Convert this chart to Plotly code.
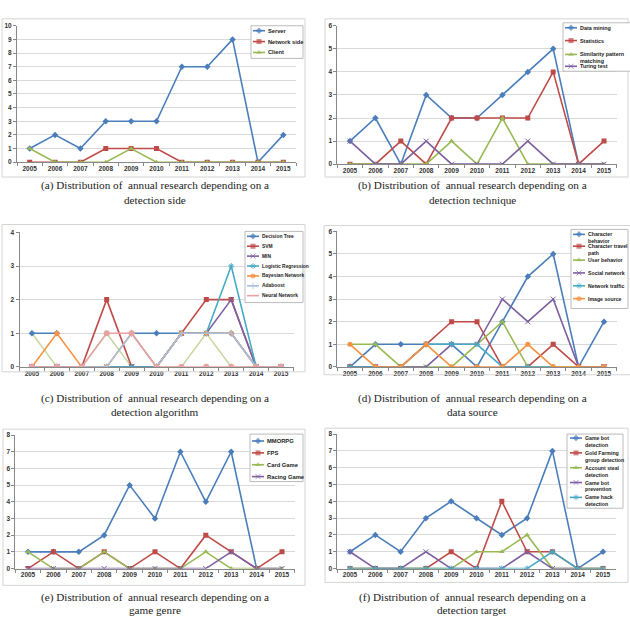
import plotly.graph_objects as go

W, H = 630, 620
years = ["2005", "2006", "2007", "2008", "2009", "2010", "2011", "2012", "2013", "2014", "2015"]

# (a) detection side
side_server = [1, 2, 1, 3, 3, 3, 7, 7, 9, 0, 2]
side_network = [0, 0, 0, 1, 1, 1, 0, 0, 0, 0, 0]
side_client = [1, 0, 0, 0, 1, 0, 0, 0, 0, 0, 0]

# (b) detection technique
tech_datamining = [1, 2, 0, 3, 2, 2, 3, 4, 5, 0, None]
tech_statistics = [0, 0, 1, 0, 2, 2, 2, 2, 4, 0, 1]
tech_similarity = [0, 0, 0, 0, 1, 0, 2, 0, 0, 0, 0]
tech_turing = [1, 0, 0, 1, 0, 0, 0, 1, 0, 0, 0]

# (c) detection algorithm
alg_dtree = [1, 1, None, None, 1, 1, 1, 1, 1, 0, None]
alg_svm = [0, 0, 0, 2, 0, 0, 1, 2, 2, 0, 0]
alg_min = [0, 0, 0, 0, 0, 0, 1, 1, 2, 0, 0]
alg_logistic = [0, 0, 0, 0, 0, 0, 1, 1, 3, 0, 0]
alg_bayes = [0, 1, 0, 0, 1, 0, 1, 1, 1, 0, 0]
alg_adaboost = [0, 0, 0, 0, 1, 0, 1, 1, 1, 0, 0]
alg_neural = [0, 0, 0, 1, 1, 0, 0, 0, 0, 0, 0]
alg_unlabeled = [1, 0, 0, 1, 0, 0, 0, 1, 0, 0, 0]

# (d) data source
src_charbehav = [0, 1, 1, 1, 1, 0, 2, 4, 5, 0, 2]
src_travel = [0, 0, 0, 1, 2, 2, 0, 0, 1, 0, 0]
src_user = [1, 1, 0, 0, 0, 1, 2, 0, 0, 0, 0]
src_social = [0, 0, 0, 0, 1, 1, 3, 2, 3, 0, 0]
src_traffic = [0, 0, 0, 1, 1, 1, 0, 0, 0, None, None]
src_image = [1, 0, 0, 1, 0, 0, 0, 1, 0, 0, 0]

# (e) game genre
gen_mmorpg = [1, 1, 1, 2, 5, 3, 7, 4, 7, 0, None]
gen_fps = [0, 1, 0, 1, 0, 1, 0, 2, 1, 0, 1]
gen_card = [1, 0, 0, 1, 0, 0, 0, 1, 0, 0, 0]
gen_racing = [0, 0, 0, 0, 0, 0, 0, 0, 1, 0, 0]

# (f) detection target
tgt_botdet = [1, 2, 1, 3, 4, 3, 2, 3, 7, 0, 1]
tgt_gold = [0, 0, 0, 0, 1, 0, 4, 1, 1, 0, 0]
tgt_account = [0, 0, 0, 0, 0, 1, 1, 2, 0, 0, 0]
tgt_prevent = [1, 0, 0, 1, 0, 0, 0, 1, 0, 0, None]
tgt_hack = [0, 0, 0, 0, 0, 0, 0, 0, 1, 0, 0]

BLUE = "#4A7EBB"
RED = "#BE4B48"
GREEN = "#98B954"
PURPLE = "#7D60A0"
AQUA = "#46AAC5"
ORANGE = "#F69240"
LBLUE = "#A9BEDE"
PINK = "#E6A3A1"
LGREEN = "#C6D9A0"

panels = [
    dict(
        series=[("Server", side_server, BLUE, "diamond"),
                ("Network side", side_network, RED, "square"),
                ("Client", side_client, GREEN, "triangle-up")],
        ymax=10, plot=(17, 296, 22, 160), box=(2, 15, 305, 175),
        leg=dict(box=(251, 22, 303, 55), lx=253, ys=[27, 38, 49], fs=5.7, lh=7),
        cap=("(a) Distribution of  annual research depending on a", "detection side"), capx=155, capy=(184, 198),
    ),
    dict(
        series=[("Data mining", tech_datamining, BLUE, "diamond"),
                ("Statistics", tech_statistics, RED, "square"),
                ("Similarity pattern\nmatching", tech_similarity, GREEN, "triangle-up"),
                ("Turing test", tech_turing, PURPLE, "x-thin-open")],
        ymax=6, plot=(337.3, 616.7, 22, 162), box=(325, 15, 628, 175),
        leg=dict(box=(563, 19, 632, 68), lx=565, ys=[24, 37, 51, 63], fs=5.4, lh=6.2),
        cap=("(b) Distribution of  annual research depending on a", "detection technique"), capx=472, capy=(184, 198),
    ),
    dict(
        series=[(None, alg_unlabeled, LGREEN, "triangle-up"),
                ("Decision Tree", alg_dtree, BLUE, "diamond"),
                ("SVM", alg_svm, RED, "square"),
                ("MIN", alg_min, PURPLE, "x-thin-open"),
                ("Logistic Regression", alg_logistic, AQUA, "asterisk-open"),
                ("Bayesian Network", alg_bayes, ORANGE, "circle"),
                ("Adaboost", alg_adaboost, LBLUE, "cross-thin-open"),
                ("Neural Network", alg_neural, PINK, None)],
        ymax=4, plot=(19.5, 293.5, 231, 367), box=(2, 223, 305, 372),
        leg=dict(box=(245, 230, 303, 302), lx=247, ys=[235, 245, 255, 265, 275, 285, 295], fs=4.9, lh=6),
        cap=("(c) Distribution of  annual research depending on a", "detection algorithm"), capx=155, capy=(399, 413),
    ),
    dict(
        series=[("Character\nbehavior", src_charbehav, BLUE, "diamond"),
                ("Character travel\npath", src_travel, RED, "square"),
                ("User behavior", src_user, GREEN, "triangle-up"),
                ("Social network", src_social, PURPLE, "x-thin-open"),
                ("Network traffic", src_traffic, AQUA, "asterisk-open"),
                ("Image source", src_image, ORANGE, "circle")],
        ymax=6, plot=(337.3, 616.7, 230, 367), box=(324, 224, 632, 375),
        leg=dict(box=(571, 228, 628, 308), lx=573, ys=[233, 245, 259, 272, 285, 298], fs=5.2, lh=7),
        cap=("(d) Distribution of  annual research depending on a", "data source"), capx=472, capy=(399, 413),
    ),
    dict(
        series=[("MMORPG", gen_mmorpg, BLUE, "diamond"),
                ("FPS", gen_fps, RED, "square"),
                ("Card Game", gen_card, GREEN, "triangle-up"),
                ("Racing Game", gen_racing, PURPLE, "x-thin-open")],
        ymax=8, plot=(15.3, 294.7, 436, 571), box=(3, 430, 305, 588),
        leg=dict(box=(250, 435, 303, 483), lx=252, ys=[442, 454, 466, 478], fs=5.8, lh=7),
        cap=("(e) Distribution of  annual research depending on a", "game genre"), capx=155, capy=(600, 613),
    ),
    dict(
        series=[("Game bot\ndetection", tgt_botdet, BLUE, "diamond"),
                ("Gold Farming\ngroup detection", tgt_gold, RED, "square"),
                ("Account steal\ndetection", tgt_account, GREEN, "triangle-up"),
                ("Game bot\nprevention", tgt_prevent, PURPLE, "x-thin-open"),
                ("Game hack\ndetection", tgt_hack, AQUA, "asterisk-open")],
        ymax=8, plot=(337.35, 615.65, 435, 571), box=(325, 429, 628, 585),
        leg=dict(box=(567, 435, 623, 510), lx=570, ys=[439, 454, 469, 484, 499], fs=5.2, lh=7),
        cap=("(f) Distribution of  annual research depending on a", "detection target"), capx=472, capy=(600, 613),
    ),
]

TICKFONT = dict(family="Liberation Sans, Arial, sans-serif", size=6.5, color="#333333", weight="bold")
CAPFONT = dict(family="Liberation Serif, Times New Roman, serif", size=11.2, color="#222222")


def marker_for(sym, color, size=5):
    if sym is None:
        return dict(size=0, color=color)
    if sym.endswith("-open"):
        return dict(symbol=sym, size=size, color=color, line=dict(color=color, width=1))
    return dict(symbol=sym, size=size, color=color, line=dict(width=0))


fig = go.Figure()
layout = dict(
    width=W, height=H, margin=dict(l=0, r=0, t=0, b=0),
    paper_bgcolor="white", plot_bgcolor="rgba(0,0,0,0)", showlegend=False,
)
shapes = []
annotations = []

for i, p in enumerate(panels, start=1):
    x0, x1, yt, yb = p["plot"]
    xa = f"xaxis{i}" if i > 1 else "xaxis"
    ya = f"yaxis{i}" if i > 1 else "yaxis"
    layout[xa] = dict(
        domain=[x0 / W, x1 / W], anchor=f"y{i}", type="category", range=[-0.5, 10.5],
        showgrid=False, showline=True, linecolor="#888888", linewidth=1,
        ticks="outside", tickson="boundaries", ticklen=3, tickcolor="#888888",
        tickfont=TICKFONT, tickangle=0, fixedrange=True,
    )
    layout[ya] = dict(
        domain=[1 - yb / H, 1 - yt / H], anchor=f"x{i}", range=[0, p["ymax"]], dtick=1,
        showgrid=True, gridcolor="#D9D9D9", gridwidth=1, zeroline=False,
        showline=True, linecolor="#888888", linewidth=1, ticks="outside", ticklen=3,
        tickcolor="#888888", tickfont=TICKFONT, fixedrange=True,
    )
    for name, vals, color, sym in p["series"]:
        fig.add_trace(go.Scatter(
            x=years, y=vals, mode="lines+markers", name=name or "",
            line=dict(color=color, width=1.6), marker=marker_for(sym, color),
            xaxis=f"x{i}", yaxis=f"y{i}", connectgaps=False, hoverinfo="skip",
        ))
    # panel frame
    bx0, by0, bx1, by1 = p["box"]
    shapes.append(dict(type="rect", xref="x7", yref="y7", x0=bx0, y0=by0, x1=bx1, y1=by1,
                       line=dict(color="#D4D4D4", width=1), layer="below"))
    # legend
    lg = p["leg"]
    legfont = dict(family="Liberation Sans, Arial, sans-serif", size=lg["fs"], color="#222222", weight="bold")
    lx0, ly0, lx1, ly1 = lg["box"]
    shapes.append(dict(type="rect", xref="x7", yref="y7", x0=lx0, y0=ly0, x1=lx1, y1=ly1,
                       line=dict(color="#BBBBBB", width=1), fillcolor="white", layer="below"))
    labelled = [s for s in p["series"] if s[0] is not None]
    for (name, vals, color, sym), ly in zip(labelled, lg["ys"]):
        lx = lg["lx"]
        fig.add_trace(go.Scatter(
            x=[lx, lx + 6, lx + 12], y=[ly, ly, ly], mode="lines+markers",
            line=dict(color=color, width=1.6),
            marker=dict(**{k: v for k, v in marker_for(sym, color).items() if k != "size"},
                        size=[0, 5 if sym else 0, 0]),
            xaxis="x7", yaxis="y7", hoverinfo="skip",
        ))
        for k, line in enumerate(name.split("\n")):
            annotations.append(dict(
                x=lx + 13, y=ly + k * lg["lh"], xref="x7", yref="y7", text=line, showarrow=False,
                xanchor="left", yanchor="middle", font=legfont,
            ))
    # caption
    for k, line in enumerate(p["cap"]):
        annotations.append(dict(
            x=p["capx"], y=p["capy"][k], xref="x7", yref="y7", text=line, showarrow=False,
            xanchor="center", yanchor="middle", font=CAPFONT,
        ))

layout["xaxis7"] = dict(domain=[0, 1], anchor="y7", range=[0, W], visible=False, fixedrange=True)
layout["yaxis7"] = dict(domain=[0, 1], anchor="x7", range=[H, 0], visible=False, fixedrange=True)
layout["shapes"] = shapes
layout["annotations"] = annotations
fig.update_layout(**layout)
fig.write_html("out.html")
